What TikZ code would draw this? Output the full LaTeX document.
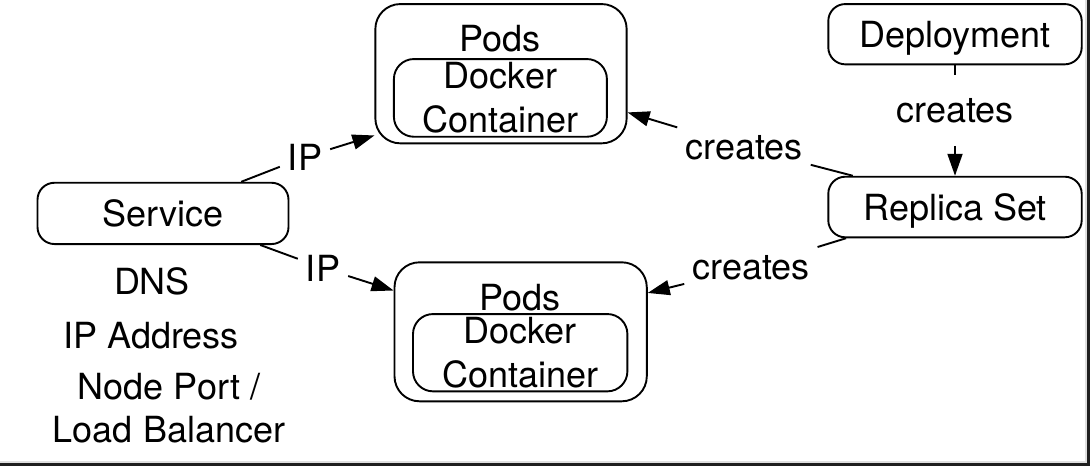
\documentclass[tikz,border=0pt]{standalone}
\usepackage{fontspec}
\setmainfont{TeX Gyre Heros}
\usetikzlibrary{arrows.meta}
\begin{document}
\begin{tikzpicture}[x=1pt,y=-1pt,
  every node/.style={font=\fontsize{36}{43}\selectfont},
  box/.style={draw, line width=1.9pt, inner sep=0pt},
  lbl/.style={inner xsep=8pt, inner ysep=8pt},
  conn/.style={line width=1.9pt},
  arr/.style={conn, -{Triangle[length=22pt,width=15pt]}}
]
\useasboundingbox (0,0) rectangle (1090,466);
% frame edges (right and bottom)
\fill[gray!25] (1085,0) rectangle (1090,466);
\fill[gray!25] (0,461) rectangle (1090,466);
\fill[black!88] (1087.3,0) rectangle (1090,466);
\fill[black!88] (0,462.7) rectangle (1090,466);

% boxes
\node[box, rounded corners=17pt, minimum width=251pt, minimum height=61.3pt, text depth=0pt] (svc) at (163,213.4) {Service};
\node[box, rounded corners=25pt, minimum width=251.3pt, minimum height=139.3pt] (pods1) at (501,73.7) {};
\node (pods1t) at (500,39) {Pods};
\node[box, rounded corners=20pt, minimum width=213pt, minimum height=77.7pt, align=center, font=\fontsize{36}{44}\selectfont] (dock1) at (500.4,97.9) {Docker\\Container};
\node[box, rounded corners=25pt, minimum width=252.3pt, minimum height=139pt] (pods2) at (520.65,331.8) {};
\node (pods2t) at (520,298) {Pods};
\node[box, rounded corners=20pt, minimum width=214.4pt, minimum height=77.3pt, align=center, font=\fontsize{36}{44}\selectfont] (dock2) at (520.2,352.7) {Docker\\Container};
\node[box, rounded corners=17pt, minimum width=253.4pt, minimum height=60.3pt, text depth=0pt] (dep) at (955,34.2) {Deployment};
\node[box, rounded corners=17pt, minimum width=253.4pt, minimum height=60.6pt, text depth=0pt] (rs) at (955,207) {Replica Set};

% service notes
\node (dns) at (152,281.3) {DNS};
\node (ipad) at (151,335.3) {IP Address};
\node[align=center] (lb) at (169,407.8) {Node Port /\\Load Balancer};

% connector labels
\node[lbl] (ip1) at (305,157) {IP};
\node[lbl] (ip2) at (323,268) {IP};
\node[lbl] (cr1) at (744,147.5) {creates};
\node[lbl] (cr2) at (751,267.5) {creates};
\node[lbl, inner ysep=23pt] (cr3) at (955,110.5) {creates};

% connectors
\draw[conn] (svc.22) -- (ip1);
\draw[arr] (ip1) -- (pods1.206);
\draw[conn] (svc.342) -- (ip2);
\draw[arr] (ip2) -- (pods2.162);
\draw[conn] (rs.163) -- (cr1);
\draw[arr] (cr1) -- (pods1.343);
\draw[conn] (rs.196) -- (cr2);
\draw[arr] (cr2) -- (pods2.17);
\draw[conn] (dep) -- (cr3);
\draw[arr] (cr3) -- (rs);
\end{tikzpicture}
\end{document}
